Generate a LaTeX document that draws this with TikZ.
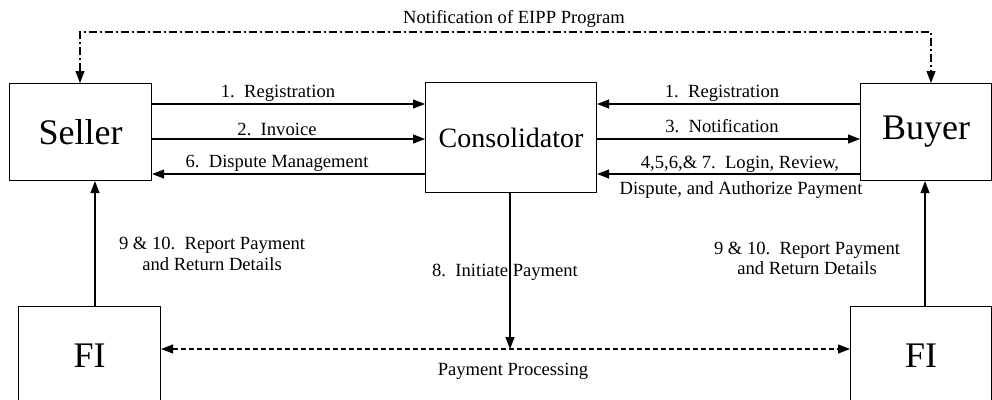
\documentclass[tikz,border=0pt]{standalone}
\usepackage{fontspec}
\setmainfont{Liberation Serif}
\usetikzlibrary{arrows.meta}
\begin{document}
\begin{tikzpicture}[x=1pt,y=-1pt,
  box/.style={draw,line width=1.1pt,inner sep=0pt,anchor=north west},
  big/.style={font=\fontsize{36}{40}\selectfont},
  lbl/.style={font=\fontsize{18.6}{21}\selectfont,inner sep=0pt,anchor=base},
  tip/.style={Triangle[length=12pt,width=9pt]},
  arr/.style={line width=1.1pt,-{Triangle[length=12pt,width=9pt]}},
  darr/.style={line width=1.1pt,dash pattern=on 5pt off 3pt,{Triangle[length=12pt,width=9pt]}-{Triangle[length=12pt,width=9pt]}},
  ddarr/.style={line width=1.1pt,dash pattern=on 8pt off 3pt on 2pt off 3pt,{Triangle[length=12pt,width=9pt]}-{Triangle[length=12pt,width=9pt]}}]
\useasboundingbox (0,0) rectangle (992,399);
% boxes
\node[box,big,minimum width=142pt,minimum height=97pt] (seller) at (9,83) {Seller};
\node[box,font=\fontsize{28}{32}\selectfont,minimum width=171pt,minimum height=110pt] (cons) at (425,82) {Consolidator};
\node[box,big,minimum width=131pt,minimum height=97pt] (buyer) at (860,83) {Buyer};
\node[box,big,minimum width=142pt,minimum height=98pt] (fil) at (18,306) {FI};
\node[box,big,minimum width=141pt,minimum height=98pt] (fir) at (850,306) {FI};
% level coordinates
\coordinate (y1) at (0,104);
\coordinate (y2) at (0,139);
\coordinate (y3) at (0,174);
\coordinate (ytop) at (0,32);
\coordinate (ypay) at (0,349);
\coordinate (xsl) at (80,0);
\coordinate (xbu) at (931,0);
\coordinate (xfl) at (95,0);
\coordinate (xfr) at (925,0);
\coordinate (xc) at (510,0);
% seller <-> consolidator
\draw[arr] (seller.east |- y1) -- (cons.west |- y1);
\draw[arr] (seller.east |- y2) -- (cons.west |- y2);
\draw[arr] (cons.west |- y3) -- (seller.east |- y3);
% buyer <-> consolidator
\draw[arr] (buyer.west |- y1) -- (cons.east |- y1);
\draw[arr] (cons.east |- y2) -- (buyer.west |- y2);
\draw[arr] (buyer.west |- y3) -- (cons.east |- y3);
% top dash-dot
\draw[ddarr] (xsl |- seller.north) -- (xsl |- ytop) -- (xbu |- ytop) -- (xbu |- buyer.north);
% FI -> seller/buyer
\draw[arr] (xfl |- fil.north) -- (xfl |- seller.south);
\draw[arr] (xfr |- fir.north) -- (xfr |- buyer.south);
% consolidator -> payment
\draw[arr] (xc |- cons.south) -- (xc |- ypay);
\draw[darr] (fil.east |- ypay) -- (fir.west |- ypay);
% labels
\node[lbl] (l1) at (278,97) {1.\ \ Registration};
\node[lbl] (l2) at (277,135) {2.\ \ Invoice};
\node[lbl] (l3) at (277,167) {6.\ \ Dispute Management};
\node[lbl] (r1) at (722,97) {1.\ \ Registration};
\node[lbl] (r2) at (722,132) {3.\ \ Notification};
\node[lbl] (r3) at (740,168) {4,5,6,\& 7.\ \ Login, Review,};
\node[lbl] (r4) at (741,194) {Dispute, and Authorize Payment};
\node[lbl] (top) at (514,23) {Notification of EIPP Program};
\node[lbl] (f1a) at (212,249) {9 \& 10.\ \ Report Payment};
\node[lbl] (f1b) at (212,270) {and Return Details};
\node[lbl] (f2a) at (807,254) {9 \& 10.\ \ Report Payment};
\node[lbl] (f2b) at (807,274) {and Return Details};
\node[lbl] (ip) at (505,276) {8.\ \ Initiate Payment};
\node[lbl] (pp) at (513,375) {Payment Processing};
\end{tikzpicture}
\end{document}
